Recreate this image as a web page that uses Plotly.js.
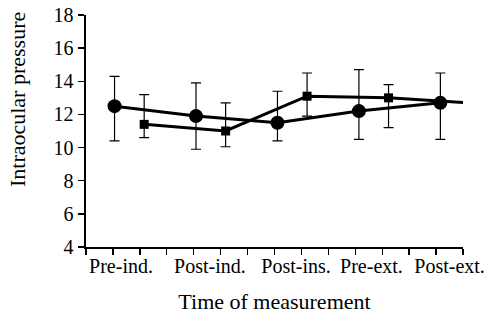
<!DOCTYPE html>
<html>
<head>
<meta charset="utf-8">
<script src="https://cdn.plot.ly/plotly-3.0.1.min.js"></script>
<style>html,body{margin:0;padding:0;background:#fff}#chart{width:492px;height:328px}</style>
</head>
<body>
<div id="chart"></div>
<script>
// Data
var categories = ["Pre-ind.", "Post-ind.", "Post-ins.", "Pre-ext.", "Post-ext."];
var circleMean  = [12.5, 11.9, 11.5, 12.2, 12.7];
var circleUpper = [14.3, 13.9, 13.4, 14.7, 14.5];
var circleLower = [10.4, 9.9, 10.4, 10.5, 10.5];
var squareMean  = [11.4, 11.0, 13.1, 13.0, 12.7];
var squareUpper = [13.2, 12.7, 14.5, 13.8, 13.85];
var squareLower = [10.6, 10.05, 11.9, 11.2, 11.3];
var yTicks = [4, 6, 8, 10, 12, 14, 16, 18];

// Layout: category centres on an axis with 14 minor tick intervals
function centre(i) { return 1.61 + 3.025 * i; }
var groupOffset = 0.55;
var xc = categories.map(function (c, i) { return centre(i) - groupOffset; });
var xs = categories.map(function (c, i) { return centre(i) + groupOffset; });
var labelPos = [1.3, 4.6, 7.8, 10.6, 13.5];

function diff(a, b) { return a.map(function (v, i) { return v - b[i]; }); }

var errStyle = {type: 'data', symmetric: false, color: '#000', thickness: 1.2, width: 5};

var traceCircle = {
  x: xc, y: circleMean, type: 'scatter', mode: 'lines+markers', cliponaxis: false,
  line: {color: '#000', width: 3},
  marker: {symbol: 'circle', size: 14, color: '#000'},
  error_y: Object.assign({array: diff(circleUpper, circleMean), arrayminus: diff(circleMean, circleLower)}, errStyle),
  showlegend: false, hoverinfo: 'skip'
};
var traceSquare = {
  x: xs, y: squareMean, type: 'scatter', mode: 'lines+markers', cliponaxis: false,
  line: {color: '#000', width: 3},
  marker: {symbol: 'square', size: 9, color: '#000'},
  error_y: Object.assign({array: diff(squareUpper, squareMean), arrayminus: diff(squareMean, squareLower)}, errStyle),
  showlegend: false, hoverinfo: 'skip'
};

var font = {family: 'Liberation Serif, Times New Roman, serif', color: '#000'};

var layout = {
  width: 492, height: 328,
  margin: {l: 86, r: 29, t: 15, b: 81},
  paper_bgcolor: '#fff', plot_bgcolor: '#fff',
  font: Object.assign({size: 20}, font),
  xaxis: {
    range: [0, 14], showgrid: false, zeroline: false,
    showline: true, linecolor: '#000', linewidth: 2,
    tickmode: 'array', tickvals: labelPos, ticktext: categories,
    ticks: '', ticklen: 6, ticklabeloverflow: 'allow',
    tickfont: Object.assign({size: 20}, font),
    minor: {ticks: 'outside', dtick: 1, tick0: 0, ticklen: 6, tickwidth: 1.3, tickcolor: '#000', showgrid: false},
    title: {text: 'Time of measurement', font: Object.assign({size: 22}, font), standoff: 18}
  },
  yaxis: {
    range: [4, 18], showgrid: false, zeroline: false,
    showline: true, linecolor: '#000', linewidth: 2.5,
    tickmode: 'array', tickvals: yTicks, ticktext: yTicks.map(String),
    ticks: 'outside', ticklen: 6, tickwidth: 1.3, tickcolor: '#000',
    tickfont: Object.assign({size: 20}, font)
  },
  annotations: [{
    text: 'Intraocular pressure', textangle: -90, showarrow: false,
    xref: 'paper', yref: 'paper', x: -0.18, y: 0.634, xanchor: 'center', yanchor: 'middle',
    font: Object.assign({size: 22}, font)
  }]
};

Plotly.newPlot('chart', [traceCircle, traceSquare], layout, {displayModeBar: false, staticPlot: true});
</script>
</body>
</html>
